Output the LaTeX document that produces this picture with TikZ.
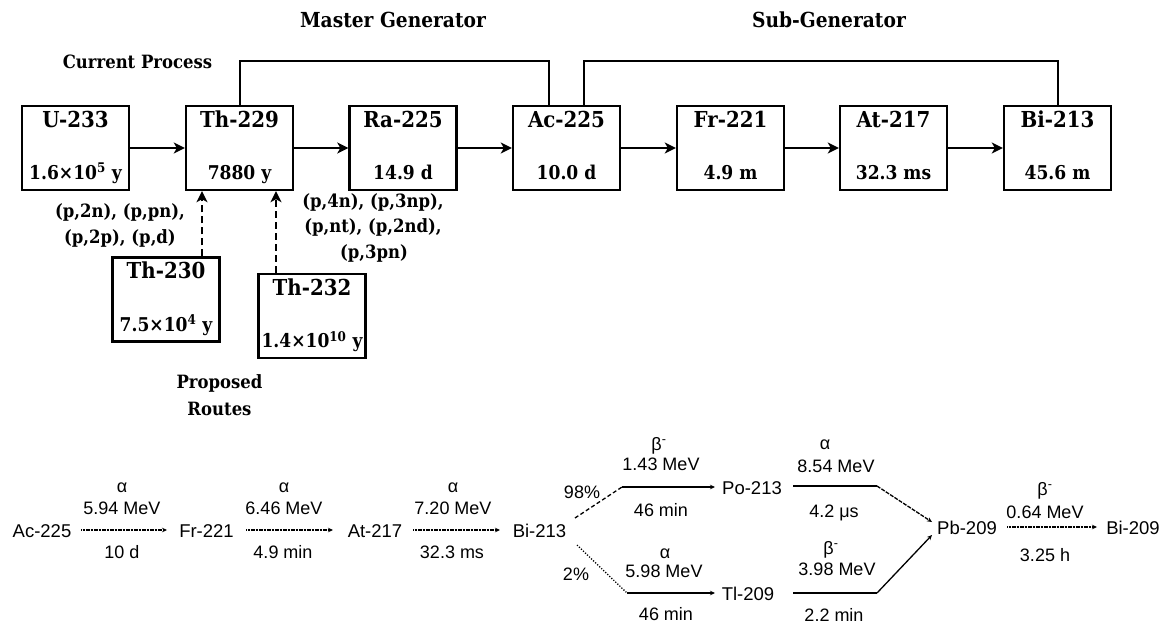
\documentclass[tikz,border=0pt]{standalone}
\usepackage{fontspec}
\setmainfont{Liberation Sans}
\newfontfamily\topfont[FakeStretch=0.9]{DejaVu Serif}
\usetikzlibrary{arrows.meta}
\begin{document}
\begin{tikzpicture}[x=1pt,y=-1pt,
  box/.style={draw, line width=2.4pt, minimum width=107pt, minimum height=84pt, inner sep=0pt},
  nm/.style={font=\topfont\bfseries\fontsize{22}{24}\selectfont, inner sep=0pt, anchor=base},
  hl/.style={font=\topfont\bfseries\fontsize{19}{20}\selectfont, inner sep=0pt, anchor=base},
  lbl/.style={font=\topfont\bfseries\fontsize{18.3}{20}\selectfont, inner sep=0pt, anchor=base},
  ttl/.style={font=\topfont\bfseries\fontsize{20.7}{22}\selectfont, inner sep=0pt, anchor=base},
  arr/.style={line width=2pt, -{Stealth[length=11pt,width=11pt,inset=3pt]}},
  darr/.style={arr, dash pattern=on 7pt off 4pt},
  fb/.style={line width=2pt},
  st/.style={font=\fontsize{18}{20}\selectfont, inner sep=0pt, anchor=base},
  bnode/.style={font=\fontsize{18.5}{20}\selectfont, inner sep=0pt, anchor=base},
  barr/.style={line width=1.5pt, dash pattern=on 1.2pt off 0.4pt, -{Stealth[length=5pt,width=4.5pt]}},
  sarr/.style={line width=1.3pt, -{Stealth[length=5pt,width=4.5pt]}},
  sline/.style={line width=1.3pt},
]
\useasboundingbox (0,0) rectangle (1173,627);

\newcommand\isobox[6]{%
  \node[box] (#1) at (#2,#3) {};
  \node[nm] (#1-n) at ([yshift=21pt]#1.center) {#4};
  \node[hl] (#1-h) at ([yshift=-#6pt]#1.center) {#5};}

% top row
\isobox{u233}{75.5}{148}{U-233}{1.6×10\textsuperscript{5} y}{31}
\isobox{th229}{239.5}{148}{Th-229}{7880 y}{31}
\isobox{ra225}{403}{148}{Ra-225}{14.9 d}{31}
\isobox{ac225}{566.5}{148}{Ac-225}{10.0 d}{31}
\isobox{fr221}{730.5}{148}{Fr-221}{4.9 m}{31}
\isobox{at217}{893.5}{148}{At-217}{32.3 ms}{31}
\isobox{bi213}{1057.5}{148}{Bi-213}{45.6 m}{31}
\isobox{th230}{166}{299.5}{Th-230}{7.5×10\textsuperscript{4} y}{31.5}
\isobox{th232}{312}{316}{Th-232}{1.4×10\textsuperscript{10} y}{31.5}

\draw[arr] (u233) -- (th229);
\draw[arr] (th229) -- (ra225);
\draw[arr] (ra225) -- (ac225);
\draw[arr] (ac225) -- (fr221);
\draw[arr] (fr221) -- (at217);
\draw[arr] (at217) -- (bi213);

\draw[fb] (th229.north) -- ++(0,-44) -| ([xshift=-17.5pt]ac225.north);
\draw[fb] ([xshift=17.5pt]ac225.north) -- ++(0,-44) -| (bi213.north);

\draw[darr] ([xshift=36pt]th230.north) -- ([xshift=36pt]th230.north |- th229.south);
\draw[darr] ([xshift=-36pt]th232.north) -- ([xshift=-36pt]th232.north |- th229.south);

\node[ttl] (mg) at (393,27) {Master Generator};
\node[ttl] (sg) at (829,27) {Sub-Generator};
\node[lbl] (cp) at (137.5,68) {Current Process};
\node[lbl] (r1) at (120,217) {(p,2n), (p,pn),};
\node[lbl] (r2) at (120,243) {(p,2p), (p,d)};
\node[lbl] (r3) at (373,207) {(p,4n), (p,3np),};
\node[lbl] (r4) at (373,232) {(p,nt), (p,2nd),};
\node[lbl] (r5) at (374,258) {(p,3pn)};
\node[lbl] (pr1) at (219.5,388) {Proposed};
\node[lbl] (pr2) at (219.5,415) {Routes};

% bottom decay chain
\node[bnode] (bac) at (42,537) {Ac-225};
\node[bnode] (bfr) at (206.5,537) {Fr-221};
\node[bnode] (bat) at (375,537) {At-217};
\node[bnode] (bbi) at (539.5,537) {Bi-213};
\node[bnode] (bpo) at (752,494) {Po-213};
\node[bnode] (btl) at (748,600) {Tl-209};
\node[bnode] (bpb) at (967,534) {Pb-209};
\node[bnode] (bbi9) at (1133,534) {Bi-209};

\coordinate (a1s) at (81,530); \coordinate (a1e) at (167,530);
\coordinate (a2s) at (246,530); \coordinate (a2e) at (333,530);
\coordinate (a3s) at (413,530); \coordinate (a3e) at (500,530);
\draw[barr] (a1s) -- (a1e);
\draw[barr] (a2s) -- (a2e);
\draw[barr] (a3s) -- (a3e);

\coordinate (ub0) at (575,518); \coordinate (ub1) at (622,487); \coordinate (ub2) at (715,487);
\coordinate (lb0) at (577,545); \coordinate (lb1) at (627,593); \coordinate (lb2) at (715,593);
\draw[sline, dash pattern=on 4pt off 2.5pt] (ub0) -- (ub1);
\draw[sarr] (ub1) -- (ub2);
\draw[sline, dash pattern=on 1.2pt off 1.6pt] (lb0) -- (lb1);
\draw[sarr] (lb1) -- (lb2);

\coordinate (ur0) at (793,486); \coordinate (ur1) at (877,486); \coordinate (ur2) at (932,522);
\coordinate (lr0) at (793,593); \coordinate (lr1) at (877,593); \coordinate (lr2) at (932,535);
\draw[sline] (ur0) -- (ur1);
\draw[sarr, dash pattern=on 4pt off 1.2pt] (ur1) -- (ur2);
\draw[sline] (lr0) -- (lr1);
\draw[sarr] (lr1) -- (lr2);

\coordinate (a4s) at (1007,527); \coordinate (a4e) at (1097,527);
\draw[barr] (a4s) -- (a4e);

% labels
\node[st] at (122,492) {α};
\node[st] at (122,514) {5.94 MeV};
\node[st] at (122,558) {10 d};
\node[st] at (284,492) {α};
\node[st] at (284,514) {6.46 MeV};
\node[st] at (283,558) {4.9 min};
\node[st] at (453,492) {α};
\node[st] at (453,514) {7.20 MeV};
\node[st] at (452,558) {32.3 ms};

\node[st] at (659,450) {β\textsuperscript{-}};
\node[st] at (661,470) {1.43 MeV};
\node[st] at (661,516) {46 min};
\node[st] at (582,498) {98\%};
\node[st] at (665,558) {α};
\node[st] at (664,577) {5.98 MeV};
\node[st] at (666,620) {46 min};
\node[st] at (576,580) {2\%};

\node[st] at (825,449) {α};
\node[st] at (836,472) {8.54 MeV};
\node[st] at (834,517) {4.2 μs};
\node[st] at (831,554) {β\textsuperscript{-}};
\node[st] at (837,575) {3.98 MeV};
\node[st] at (834,621) {2.2 min};

\node[st] at (1045,495) {β\textsuperscript{-}};
\node[st] at (1045,518) {0.64 MeV};
\node[st] at (1045,561) {3.25 h};
\end{tikzpicture}
\end{document}
